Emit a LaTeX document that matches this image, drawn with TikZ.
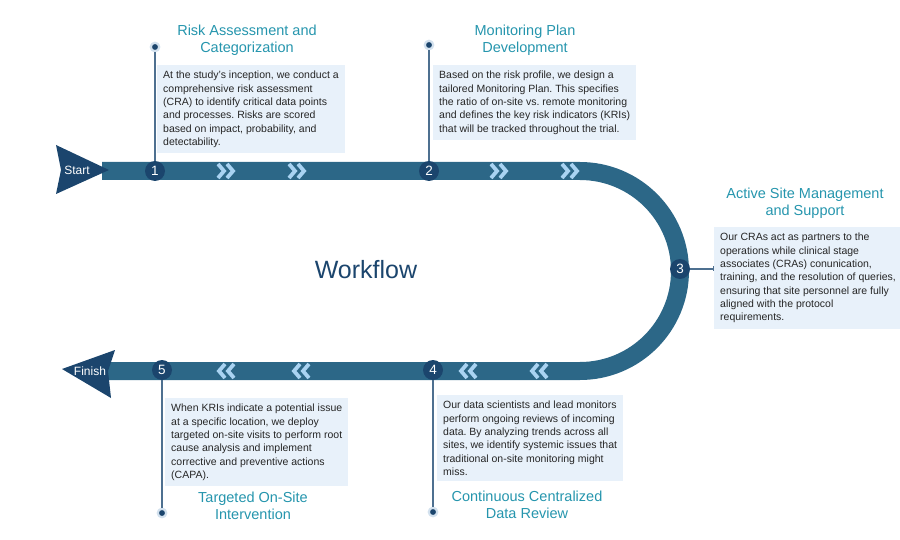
\documentclass[tikz,border=0pt]{standalone}
\usepackage{fontspec}
\setmainfont{Liberation Sans}
\usetikzlibrary{arrows.meta}
\definecolor{bandblue}{HTML}{2C6787}
\definecolor{navyblue}{HTML}{1B456D}
\definecolor{chevblue}{HTML}{A9D3F2}
\definecolor{titleteal}{HTML}{2595AD}
\definecolor{boxblue}{HTML}{E8F1FA}
\definecolor{pinsteel}{HTML}{4E7090}
\definecolor{pinhalo}{HTML}{D3E1EE}
\tikzset{
  numdot/.style={circle, fill=navyblue, text=white, minimum size=20pt, inner sep=0pt, font=\fontsize{13.5}{13.5}\selectfont},
  pindot/.style={circle, fill=navyblue, draw=pinhalo, line width=2.2pt, minimum size=8.5pt, inner sep=0pt},
  pinline/.style={draw=pinsteel, line width=1.6pt},
  steptitle/.style={text=titleteal, align=center, font=\fontsize{14.5}{17}\selectfont},
  descbox/.style={fill=boxblue, anchor=north west, align=left, inner xsep=6pt, inner ysep=6pt, text=black!85, font=\fontsize{10.5}{13.3}\selectfont\frenchspacing},
  chev/.style={chevblue, line width=3.8pt, line cap=butt, line join=miter},
  arrowtxt/.style={text=white, font=\fontsize{12}{13}\selectfont},
}
\begin{document}
\begin{tikzpicture}[x=1pt, y=-1pt, line join=round]
	\useasboundingbox (0,0) rectangle (900,540);
	% the path
	\coordinate (bandstart) at (102,171);
	\coordinate (bandtop) at (580,171);
	\coordinate (bandright) at (680,271);
	\coordinate (bandbottom) at (580,371);
	\coordinate (bandend) at (107,371);
	\draw[bandblue, line width=18pt, line join=miter] (bandstart) -- (bandtop)
		.. controls (635.2,171) and (680,215.8) .. (bandright)
		.. controls (680,326.2) and (635.2,371) .. (bandbottom) -- (bandend);
	\foreach \cx in {227,298,500,571} {
		\draw[chev] (\cx-9,164) -- (\cx-3,171) -- (\cx-9,178);
		\draw[chev] (\cx,164) -- (\cx+6,171) -- (\cx,178);
	}
	\foreach \cx in {225,300,467,538} {
		\draw[chev] (\cx+9,364) -- (\cx+3,371) -- (\cx+9,378);
		\draw[chev] (\cx,364) -- (\cx-6,371) -- (\cx,378);
	}
	% start and finish
	\fill[navyblue] (56,145) -- (109,170) -- (56,194) -- (61,170) -- cycle;
	\node[arrowtxt] (start) at (77,170) {Start};
	\fill[navyblue] (62,369) -- (115,350) -- (108,371) -- (111,398) -- cycle;
	\node[arrowtxt] (finish) at (90,371) {Finish};
	\node[font=\fontsize{25}{30}\selectfont, text=navyblue] (wf) at (366,270) {Workflow};
	% boxes
	\node[descbox] (b1) at (157,65) {At the study's inception, we conduct a\\comprehensive risk assessment\\(CRA) to identify critical data points\\and processes. Risks are scored\\based on impact, probability, and\\detectability.};
	\node[descbox] (b2) at (433,65) {Based on the risk profile, we design a\\tailored Monitoring Plan. This specifies\\the ratio of on-site vs. remote monitoring\\and defines the key risk indicators (KRIs)\\that will be tracked throughout the trial.};
	\node[descbox] (b3) at (714,227) {Our CRAs act as partners to the\\operations while clinical stage\\associates (CRAs) conunication,\\training, and the resolution of queries,\\ensuring that site personnel are fully\\aligned with the protocol\\requirements.};
	\node[descbox] (b4) at (437,395) {Our data scientists and lead monitors\\perform ongoing reviews of incoming\\data. By analyzing trends across all\\sites, we identify systemic issues that\\traditional on-site monitoring might\\miss.};
	\node[descbox] (b5) at (165,398) {When KRIs indicate a potential issue\\at a specific location, we deploy\\targeted on-site visits to perform root\\cause analysis and implement\\corrective and preventive actions\\(CAPA).};
	% steps
	\node[numdot] (n1) at (155,171) {1};
	\node[numdot] (n2) at (429,171) {2};
	\node[numdot] (n3) at (680,269) {3};
	\node[numdot] (n4) at (433,370) {4};
	\node[numdot] (n5) at (162,370) {5};
	\node[pindot] (p1) at (155,47) {};
	\node[pindot] (p2) at (429,45) {};
	\node[pindot] (p4) at (433,512) {};
	\node[pindot] (p5) at (162,513) {};
	\draw[pinline] (n1) -- (p1);
	\draw[pinline] (n2) -- (p2);
	\draw[pinline] (n4) -- (p4);
	\draw[pinline] (n5) -- (p5);
	\draw[pinline, -{Bar[width=5pt, line width=1.4pt]}] (n3) -- (n3 -| b3.west);
	% titles
	\node[steptitle] (t1) at (247,40) {Risk Assessment and\\Categorization};
	\node[steptitle] (t2) at (525,40) {Monitoring Plan\\Development};
	\node[steptitle] (t3) at (805,203) {Active Site Management\\and Support};
	\node[steptitle] (t4) at (527,505) {Continuous Centralized\\Data Review};
	\node[steptitle] (t5) at (253,506) {Targeted On-Site\\Intervention};
\end{tikzpicture}
\end{document}
